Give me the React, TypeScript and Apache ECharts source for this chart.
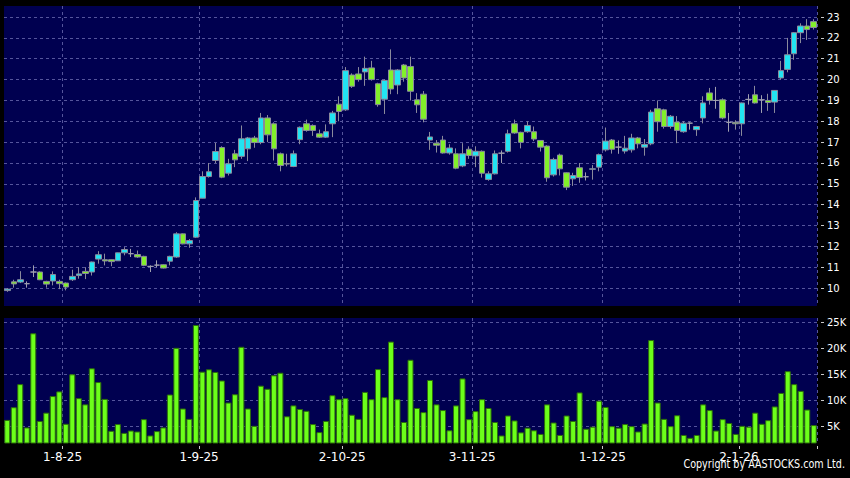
import React, { useEffect, useRef } from 'react';
import * as echarts from 'echarts';

const dates = [
  '21-7-25','22-7-25','23-7-25','24-7-25','25-7-25','28-7-25','29-7-25','30-7-25','31-7-25',
  '1-8-25','4-8-25','5-8-25','6-8-25','7-8-25','8-8-25','11-8-25','12-8-25','13-8-25','14-8-25','15-8-25',
  '18-8-25','19-8-25','20-8-25','21-8-25','22-8-25','25-8-25','26-8-25','27-8-25','28-8-25','29-8-25',
  '1-9-25','2-9-25','3-9-25','4-9-25','5-9-25','8-9-25','9-9-25','10-9-25','11-9-25','12-9-25',
  '15-9-25','16-9-25','17-9-25','18-9-25','19-9-25','22-9-25','23-9-25','24-9-25','25-9-25','26-9-25',
  '29-9-25','30-9-25',
  '2-10-25','3-10-25','6-10-25','8-10-25','9-10-25','10-10-25','13-10-25','14-10-25','15-10-25','16-10-25',
  '17-10-25','20-10-25','21-10-25','22-10-25','23-10-25','24-10-25','27-10-25','28-10-25','30-10-25','31-10-25',
  '3-11-25','4-11-25','5-11-25','6-11-25','7-11-25','10-11-25','11-11-25','12-11-25','13-11-25','14-11-25',
  '17-11-25','18-11-25','19-11-25','20-11-25','21-11-25','24-11-25','25-11-25','26-11-25','27-11-25','28-11-25',
  '1-12-25','2-12-25','3-12-25','4-12-25','5-12-25','8-12-25','9-12-25','10-12-25','11-12-25','12-12-25',
  '15-12-25','16-12-25','17-12-25','18-12-25','19-12-25','22-12-25','23-12-25','24-12-25','29-12-25','30-12-25',
  '31-12-25',
  '2-1-26','5-1-26','6-1-26','7-1-26','8-1-26','9-1-26','12-1-26','13-1-26','14-1-26','15-1-26',
  '16-1-26','19-1-26',
];

const opens = [
  9.88,10.30,10.29,10.21,10.77,10.77,10.32,10.34,10.32,10.24,
  10.40,10.60,10.80,10.77,11.39,11.36,11.36,11.31,11.69,11.65,
  11.61,11.52,11.04,11.10,11.12,11.29,11.49,12.60,12.12,12.44,
  14.31,15.35,16.12,16.74,15.51,16.44,16.32,16.68,17.20,16.98,
  18.16,17.88,16.44,15.97,15.83,17.12,17.88,17.80,17.40,17.24,
  17.88,18.82,18.55,20.22,20.27,20.37,20.56,19.80,19.06,20.46,
  19.74,20.70,20.63,19.03,19.30,17.10,16.95,17.10,16.48,16.44,
  15.86,16.66,16.34,16.56,15.21,15.48,16.47,16.56,17.88,17.47,
  17.50,17.50,17.08,16.81,15.43,16.38,15.53,15.24,15.77,15.34,
  15.70,15.80,16.63,17.10,16.76,16.57,16.63,17.20,16.76,16.92,
  18.60,18.55,17.75,17.96,17.50,17.91,17.60,18.16,19.36,19.00,
  19.03,17.95,17.95,17.88,19.05,19.27,19.03,19.00,18.92,20.08,
  20.49,21.24,22.25,22.57,22.78,
];
const closes = [
  9.95,10.20,10.40,10.21,10.77,10.40,10.19,10.65,10.21,10.05,
  10.56,10.68,10.70,11.25,11.60,11.30,11.27,11.69,11.85,11.65,
  11.49,11.09,11.04,11.10,10.96,11.52,12.60,12.12,12.28,14.20,
  15.35,15.58,16.55,15.32,15.96,16.15,17.16,17.20,16.98,18.16,
  17.35,16.68,15.88,15.95,16.44,17.71,17.56,17.56,17.24,17.50,
  18.40,18.47,20.43,19.68,20.00,20.54,20.00,18.80,19.96,19.55,
  20.46,20.08,19.44,18.79,18.10,17.25,16.85,16.48,16.72,15.75,
  16.44,16.36,16.56,15.51,15.48,16.44,16.47,17.40,17.44,16.99,
  17.80,17.15,16.76,15.29,16.17,15.72,14.84,15.40,15.30,15.34,
  15.72,16.40,17.05,16.66,16.76,16.71,17.20,16.92,16.89,18.44,
  17.98,17.75,18.24,17.56,17.91,17.91,17.75,18.88,19.00,19.00,
  18.16,17.95,17.88,18.88,19.05,18.88,19.03,18.90,19.48,20.43,
  21.19,22.25,22.57,22.40,22.50,
];
const lows = [
  9.82,10.02,10.24,10.02,10.53,10.38,10.02,10.13,9.95,9.89,
  10.34,10.45,10.43,10.60,11.17,11.09,11.05,11.30,11.57,11.49,
  11.45,11.05,10.77,11.00,10.94,11.09,11.45,12.10,11.93,12.40,
  14.30,15.30,16.00,15.27,15.40,15.80,16.20,16.09,16.73,16.90,
  17.00,16.12,15.60,15.84,15.80,16.90,17.50,17.30,17.20,17.20,
  17.24,18.00,18.50,19.60,19.90,19.70,19.95,18.70,18.35,19.30,
  19.30,19.90,19.00,18.40,17.95,16.63,16.50,16.45,16.40,15.70,
  15.80,16.20,15.80,15.30,15.15,15.45,16.00,16.50,17.40,16.70,
  17.45,17.05,16.55,15.10,15.35,15.40,14.70,14.90,15.05,15.16,
  15.20,15.60,16.55,16.45,16.44,16.45,16.50,16.70,16.35,16.85,
  17.50,17.65,17.65,16.95,17.45,17.60,17.30,17.90,18.80,18.60,
  18.10,17.50,17.60,17.30,18.80,18.85,18.40,18.50,18.40,20.00,
  20.35,20.95,21.75,21.90,22.40,
];
const highs = [
  10.00,10.40,10.81,10.32,11.09,10.80,10.35,10.80,10.40,10.27,
  10.88,11.00,11.00,11.27,11.77,11.65,11.37,11.70,11.96,11.88,
  11.80,11.55,11.09,11.33,11.14,11.55,12.68,12.62,12.35,14.35,
  15.60,16.00,16.96,16.80,16.20,16.63,17.80,17.25,17.30,18.40,
  18.30,17.95,16.50,16.44,16.60,17.75,18.08,17.85,17.60,17.85,
  18.50,19.20,20.60,20.30,20.60,21.10,20.90,19.85,20.00,21.45,
  20.50,20.75,21.10,19.35,19.45,17.49,17.10,17.30,16.90,16.70,
  16.95,16.80,16.80,16.60,15.60,16.60,16.60,17.60,18.08,17.50,
  18.00,17.75,17.10,16.85,16.25,16.45,15.55,15.53,16.00,15.55,
  15.90,16.45,17.70,17.15,17.08,17.30,17.40,17.25,17.15,18.55,
  19.00,18.60,18.30,18.25,18.00,17.95,17.78,19.20,19.60,19.65,
  19.10,18.40,18.05,18.90,19.30,19.70,19.25,19.32,19.50,20.90,
  22.00,22.28,22.70,22.90,22.90,
];
const volumesK = [
  6.2,8.65,13.1,4.75,22.9,6.0,7.6,10.8,11.7,5.45,
  15.0,10.4,9.2,16.15,13.5,10.25,4.1,5.4,3.7,4.15,
  3.97,6.35,3.2,4.04,4.75,11.1,20.1,8.4,6.4,24.5,
  15.5,15.96,15.45,13.8,9.55,11.15,20.3,8.4,5.06,12.8,
  12.2,14.8,15.3,6.9,9.0,8.3,7.95,5.4,3.85,6.0,
  10.96,10.2,10.4,7.2,6.4,11.6,10.2,16.0,10.6,21.3,
  10.2,5.8,17.8,8.5,7.7,13.9,9.2,8.1,4.2,9.0,
  14.2,6.35,7.9,10.2,8.5,5.8,3.2,7.05,6.1,3.8,
  4.7,4.2,3.5,9.2,5.7,3.3,7.05,6.0,11.5,4.5,
  4.9,9.9,8.7,5.0,4.7,5.4,5.0,3.97,5.5,21.6,
  9.55,6.4,5.0,7.1,3.3,2.75,3.3,9.2,8.1,4.15,
  6.35,5.6,3.5,5.06,4.9,7.6,5.45,6.15,8.8,11.4,
  15.6,13.1,11.8,8.2,5.2,
];
const priceTicks = [10, 11, 12, 13, 14, 15, 16, 17, 18, 19, 20, 21, 22, 23];
const volumeTicks = [5000, 10000, 15000, 20000, 25000];
const copyright = 'Copyright by AASTOCKS.com Ltd.';

const monthOf = (d: string) => d.split('-')[1];
const isMonthStart = (i: number) => i > 0 && monthOf(dates[i]) !== monthOf(dates[i - 1]);

export default function App() {
  const ref = useRef<HTMLDivElement>(null);
  useEffect(() => {
    const chart = echarts.init(ref.current!, null, { renderer: 'svg' });
    const gridLine = { color: '#55559c', type: [3, 3] as any, width: 1 };
    const tickColor = '#c8c8c8';
    const font = 'DejaVu Sans';
    chart.setOption({
      animation: false,
      backgroundColor: '#000000',
      grid: [
        { left: 4, top: 6, width: 813, height: 300, show: true, backgroundColor: '#000050', borderWidth: 0 },
        { left: 4, top: 318, width: 813, height: 125, show: true, backgroundColor: '#000050', borderWidth: 0 },
      ],
      xAxis: [
        {
          type: 'category', gridIndex: 0, data: dates, boundaryGap: true,
          axisLine: { show: false }, axisTick: { show: false }, axisLabel: { show: false },
          splitLine: { show: true, interval: (i: number) => isMonthStart(i), lineStyle: gridLine },
        },
        {
          type: 'category', gridIndex: 1, data: dates, boundaryGap: true, offset: 3,
          axisLine: { show: false },
          axisTick: { show: true, length: 3, interval: (i: number) => isMonthStart(i), lineStyle: { color: tickColor } },
          axisLabel: {
            interval: (i: number) => isMonthStart(i), color: '#ffffff', fontFamily: font, fontSize: 12,
            margin: 5, padding: [0, 6.5, 0, 0],
          },
          splitLine: { show: true, interval: (i: number) => isMonthStart(i), lineStyle: gridLine },
        },
      ],
      yAxis: [
        {
          type: 'value', gridIndex: 0, position: 'right', min: 9.14, max: 23.53, offset: 4, scale: true,
          axisLine: { show: false },
          axisTick: { show: true, length: 3, customValues: priceTicks, lineStyle: { color: tickColor } },
          axisLabel: { customValues: priceTicks, color: '#ffffff', fontFamily: font, fontSize: 10, margin: 6 },
          splitLine: { show: true, lineStyle: gridLine },
        },
        {
          type: 'value', gridIndex: 1, position: 'right', min: 1750, max: 25850, offset: 4, scale: true,
          axisLine: { show: false },
          axisTick: { show: true, length: 3, customValues: volumeTicks, lineStyle: { color: tickColor } },
          axisLabel: {
            customValues: volumeTicks, color: '#ffffff', fontFamily: font, fontSize: 10, margin: 6,
            formatter: (v: number) => v / 1000 + 'K',
          },
          splitLine: { show: true, lineStyle: gridLine },
        },
      ],
      graphic: [
        {
          type: 'text', x: 845, y: 464, scaleX: 0.8,
          style: { text: copyright, align: 'right', verticalAlign: 'middle', fill: '#ffffff', font: `12px "${font}"` },
        },
      ],
      series: [
        {
          type: 'candlestick', xAxisIndex: 0, yAxisIndex: 0, barWidth: 6,
          data: dates.map((_, i) => [opens[i], closes[i], lows[i], highs[i]]),
          itemStyle: {
            color: '#22e4f2', color0: '#82f02a', borderColor: '#8a8a9c', borderColor0: '#8a8a9c',
            borderColorDoji: '#a0a0b0', borderWidth: 1,
          },
        },
        {
          type: 'bar', xAxisIndex: 1, yAxisIndex: 1, barWidth: 6,
          data: volumesK.map((v) => v * 1000),
          itemStyle: { color: '#6cff1a', borderColor: '#2c6e0a', borderWidth: 1 },
        },
      ],
    });
    return () => chart.dispose();
  }, []);
  return (
    <div
      ref={ref}
      style={{ position: 'fixed', left: 0, top: 0, width: 850, height: 478, background: '#000' }}
    />
  );
}
